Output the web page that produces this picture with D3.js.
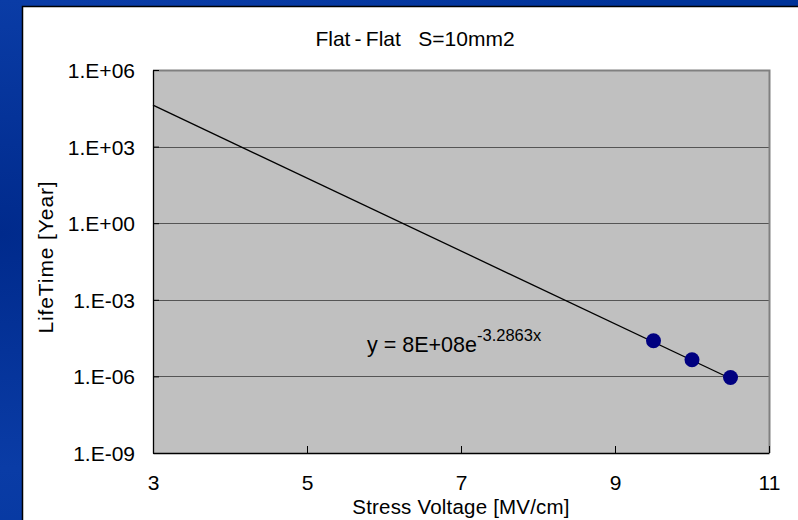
<!DOCTYPE html>
<html>
<head>
<meta charset="utf-8">
<script src="https://cdn.jsdelivr.net/npm/d3@7"></script>
<style>
  html, body { margin: 0; padding: 0; background: #003399; }
  svg { display: block; font-family: Arial, "Liberation Sans", sans-serif; }
  text { white-space: pre; }
</style>
</head>
<body>
<script>
(function () {
    'use strict';
    var width = 798, height = 520;

    // measured points
    var voltage = [9.5, 10, 10.5];
    var lifetime = [2.5e-5, 4.5e-6, 9e-7];
    // exponential trendline y = A * e^(B x)
    var trendA = 8e8, trendB = -3.2863, trendFrom = 3, trendTo = 10.5;
    var xTicks = [3, 5, 7, 9, 11];
    var yTicks = [1e-9, 1e-6, 1e-3, 1, 1e3, 1e6];
    var yTickLabels = ["1.E-09", "1.E-06", "1.E-03", "1.E+00", "1.E+03", "1.E+06"];

    var plot = {left: 153, right: 769, top: 70, bottom: 453},
        fontSize = 21;

    var svg = d3.select("body").append("svg")
        .attr("width", width)
        .attr("height", height);

    // slide background
    var defs = svg.append("defs");
    var grad = defs.append("radialGradient").attr("id", "swirl")
        .attr("cx", "0").attr("cy", "0.45").attr("r", "0.9");
    grad.append("stop").attr("offset", "0").attr("stop-color", "#002a8c");
    grad.append("stop").attr("offset", "0.5").attr("stop-color", "#0a3ca6");
    grad.append("stop").attr("offset", "1").attr("stop-color", "#003399");
    svg.append("rect").attr("width", width).attr("height", height).attr("fill", "url(#swirl)");

    // chart area
    svg.append("rect")
        .attr("x", 22.5).attr("y", 6.5)
        .attr("width", width).attr("height", height)
        .attr("fill", "#ffffff")
        .attr("stroke", "#000000")
        .attr("stroke-width", 1.5);

    var x = d3.scaleLinear().domain([3, 11]).range([plot.left, plot.right]);
    var y = d3.scaleLog().domain([1e-9, 1e6]).range([plot.bottom, plot.top]);

    svg.append("rect")
        .attr("x", plot.left).attr("y", plot.top)
        .attr("width", plot.right - plot.left)
        .attr("height", plot.bottom - plot.top)
        .attr("fill", "#c0c0c0");

    // gridlines
    svg.append("g").selectAll("line")
        .data(yTicks.slice(1, -1))
        .enter().append("line")
        .attr("x1", plot.left).attr("x2", plot.right)
        .attr("y1", function (d) { return Math.round(y(d)) + 0.5; })
        .attr("y2", function (d) { return Math.round(y(d)) + 0.5; })
        .attr("stroke", "#555555")
        .attr("stroke-width", 1.2);

    // top / right border
    svg.append("path")
        .attr("d", "M" + plot.left + "," + (plot.top + 0.5) + "H" + (plot.right + 0.5) + "V" + plot.bottom)
        .attr("fill", "none")
        .attr("stroke", "#808080")
        .attr("stroke-width", 2);

    // axes
    var xAxis = d3.axisBottom(x).tickValues(xTicks).tickSizeInner(-7).tickSizeOuter(0).tickFormat(d3.format("d"));
    var gx = svg.append("g").attr("transform", "translate(0," + plot.bottom + ")").call(xAxis);
    gx.select(".domain").attr("stroke", "#000").attr("stroke-width", 1.3);
    gx.selectAll(".tick line").attr("stroke", "#000");
    gx.selectAll(".tick text")
        .attr("y", 0).attr("dy", "0")
        .attr("transform", "translate(0,37)")
        .attr("font-size", fontSize).attr("font-family", "Arial, 'Liberation Sans', sans-serif")
        .attr("fill", "#000");

    var yAxis = d3.axisLeft(y).tickValues(yTicks).tickSizeInner(-6).tickSizeOuter(0)
        .tickFormat(function (d, i) { return yTickLabels[i]; });
    var gy = svg.append("g").attr("transform", "translate(" + plot.left + ",0)").call(yAxis);
    gy.select(".domain").attr("stroke", "#000").attr("stroke-width", 1.3);
    gy.selectAll(".tick text")
        .attr("x", -18).attr("dy", "0.36em")
        .attr("font-size", fontSize).attr("font-family", "Arial, 'Liberation Sans', sans-serif")
        .attr("fill", "#000");
    gy.selectAll(".tick line").attr("stroke", "#000");

    // trendline
    var trend = [trendFrom, trendTo].map(function (v) {
        return {x: v, y: trendA * Math.exp(trendB * v)};
    });
    svg.append("path")
        .datum(trend)
        .attr("d", d3.line().x(function (d) { return x(d.x); }).y(function (d) { return y(d.y); }))
        .attr("fill", "none")
        .attr("stroke", "#000")
        .attr("stroke-width", 1.3);

    // markers
    svg.append("g").selectAll("circle")
        .data(voltage)
        .enter().append("circle")
        .attr("cx", function (d) { return x(d); })
        .attr("cy", function (d, i) { return y(lifetime[i]); })
        .attr("r", 7.5)
        .attr("fill", "#000080");

    // equation label
    var eq = svg.append("text")
        .attr("x", 367).attr("y", 352)
        .attr("font-size", 21.5)
        .attr("fill", "#000");
    eq.append("tspan").text("y = 8E+08e");
    eq.append("tspan").attr("dy", -11).attr("font-size", 16.5).text("-3.2863x");

    // titles
    svg.append("text")
        .attr("x", 415).attr("y", 46)
        .attr("text-anchor", "middle")
        .attr("font-size", fontSize)
        .text("Flat\u2009-\u2009Flat   S=10mm2");

    svg.append("text")
        .attr("x", 461).attr("y", 514)
        .attr("text-anchor", "middle")
        .attr("font-size", 20.5)
        .attr("letter-spacing", 0.2)
        .text("Stress Voltage [MV/cm]");

    svg.append("text")
        .attr("transform", "translate(53,257) rotate(-90)")
        .attr("text-anchor", "middle")
        .attr("font-size", fontSize)
        .attr("letter-spacing", 0.9)
        .text("LifeTime [Year]");
}());
</script>
</body>
</html>
